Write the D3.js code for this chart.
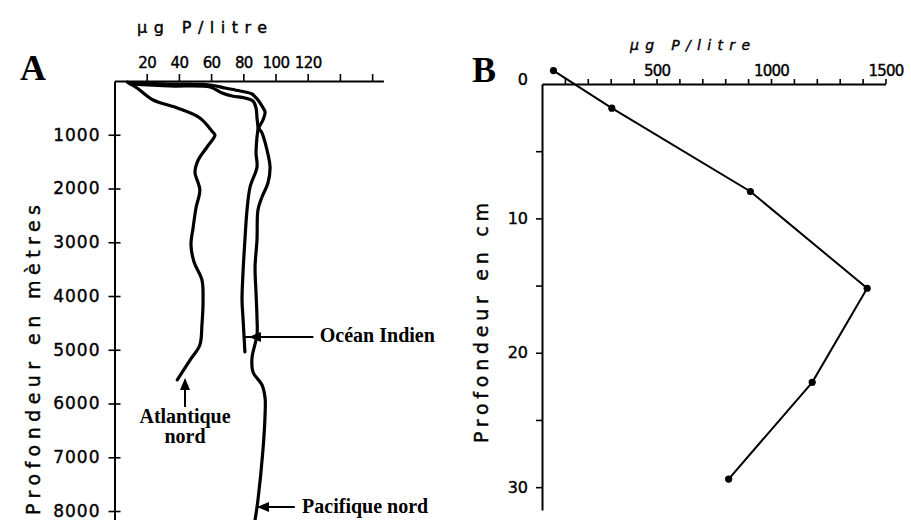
<!DOCTYPE html>
<html>
<head>
<meta charset="utf-8">
<script src="https://cdnjs.cloudflare.com/ajax/libs/d3/7.8.5/d3.min.js"></script>
<style>
body{margin:0;background:#fff;}
svg{display:block;}
.lettre{font-family:"Liberation Serif","Times New Roman",serif;font-weight:bold;}
.note{font-family:"Liberation Serif","Times New Roman",serif;font-weight:bold;font-size:20px;}
.lbl{font-family:"DejaVu Sans",sans-serif;fill:#000;}
</style>
</head>
<body>
<svg id="chart" width="911" height="520"></svg>
<script>
// A : phosphore dissous (µg P/litre) selon la profondeur (m)
var atl_valeur = [8, 14, 24, 39, 53, 61, 62.4, 57.5, 52, 50, 53, 50.6, 48.8, 47.5, 49.4, 54.3, 55, 54.3, 53, 47, 39];
var atl_prof   = [20, 130, 353, 502, 688, 949, 1004, 1228, 1469, 1693, 2027, 2362, 2734, 3050, 3367, 3701, 4073, 4538, 4910, 5189, 5561];

var ind_valeur = [9.6, 34.5, 59.3, 66.8, 73, 81, 86, 87.9, 88.5, 89.1, 88.5, 87.9, 88.5, 84.2, 82.3, 81, 79.8, 79.2, 79.8, 80.4, 81];
var ind_prof   = [56, 93, 112, 223, 279, 316, 372, 502, 688, 874, 1042, 1339, 1600, 1972, 2400, 2957, 3571, 4073, 4408, 4724, 5041];

var pac_valeur = [9.6, 34.5, 59.3, 68.6, 78, 85.4, 89.1, 91.6, 93.5, 92.2, 89.8, 91.6, 94.7, 96.6, 95.3, 91.6, 89.1, 88.5, 87.3, 87.9, 88.5, 88.5, 85.4, 86, 91.6, 93.5, 93.5, 92.2, 89.1, 87.3];
var pac_prof   = [37, 56, 74, 130, 186, 242, 353, 465, 577, 725, 874, 967, 1283, 1600, 1897, 2158, 2400, 2957, 3460, 3943, 4408, 4724, 5152, 5413, 5654, 5896, 6212, 6863, 7793, 8165];

var a_ticks_x  = [20, 40, 60, 80, 100, 120, 140, 160];
var a_labels_x = [20, 40, 60, 80, 100, 120];
var a_ticks_y  = [1000, 2000, 3000, 4000, 5000, 6000, 7000, 8000];

// B : phosphore dans l'eau interstitielle selon la profondeur dans le sédiment (cm)
var sed_valeur = [50, 305, 910, 1420, 1180, 815];
var sed_prof   = [-1, 1.8, 8, 15.2, 22.2, 29.4];

var b_ticks_x  = [100, 200, 300, 400, 500, 600, 700, 800, 900, 1000, 1100, 1200, 1300, 1400, 1500];
var b_labels_x = [500, 1000, 1500];
var b_ticks_y  = [0, 5, 10, 15, 20, 25, 30];
var b_labels_y = [0, 10, 20, 30];

var svg = d3.select("#chart");

function styleAxis(g, size){
    g.attr("font-family", "'DejaVu Sans', sans-serif")
     .attr("font-size", size);
    g.selectAll("path.domain").attr("stroke", "#000").attr("stroke-width", 2);
    g.selectAll(".tick line").attr("stroke", "#000").attr("stroke-width", 1.6);
    g.selectAll(".tick text").attr("fill", "#000").attr("stroke", "#000").attr("stroke-width", 0.4);
}

function arrowHead(dir, tx, ty){
    // petite flèche pleine, pointe en (tx,ty)
    var p;
    if(dir == "left") p = [[tx, ty], [tx + 12, ty - 5], [tx + 12, ty + 5]];
    else p = [[tx, ty], [tx - 5, ty + 12], [tx + 5, ty + 12]];
    svg.append("polygon").attr("points", p.join(" ")).attr("fill", "#000");
}

// ---------- panneau A ----------
var xa = d3.scaleLinear().domain([0, 167]).range([114.5, 383.4]);
var ya = d3.scaleLinear().domain([0, 8167]).range([81, 520]);

var axA = svg.append("g").attr("transform", "translate(0," + ya(0) + ")")
    .call(d3.axisTop(xa).tickValues(a_ticks_x).tickSize(7).tickSizeOuter(0).tickPadding(6)
        .tickFormat(function(d){ return a_labels_x.indexOf(d) >= 0 ? d : ""; }));
styleAxis(axA, 15);
axA.selectAll(".tick text").attr("letter-spacing", -0.6);

var ayA = svg.append("g").attr("transform", "translate(" + xa(0) + ",0)")
    .call(d3.axisLeft(ya).tickValues(a_ticks_y).tickSize(6).tickSizeOuter(0).tickPadding(8)
        .tickFormat(d3.format("d")));
styleAxis(ayA, 17);
ayA.selectAll(".tick line").attr("x1", 6);
ayA.selectAll(".tick text").attr("letter-spacing", 1);

var lineA = d3.line()
    .x(function(d){ return xa(d[0]); })
    .y(function(d){ return ya(d[1]); })
    .curve(d3.curveCatmullRom.alpha(0.5));

[[atl_valeur, atl_prof], [ind_valeur, ind_prof], [pac_valeur, pac_prof]].forEach(function(s){
    svg.append("path")
        .datum(d3.zip(s[0], s[1]))
        .attr("d", lineA)
        .attr("fill", "none")
        .attr("stroke", "#000")
        .attr("stroke-width", 3.2)
        .attr("stroke-linecap", "round")
        .attr("stroke-linejoin", "round");
});

svg.append("text").attr("class", "lettre").attr("x", 20).attr("y", 80).attr("font-size", 36).text("A");
svg.append("text").attr("class", "lbl").attr("x", 202).attr("y", 33)
    .attr("text-anchor", "middle").attr("font-size", 16)
    .attr("textLength", 130).attr("lengthAdjust", "spacing")
    .attr("stroke", "#000").attr("stroke-width", 0.4)
    .text("µg P/litre");
svg.append("text").attr("class", "lbl")
    .attr("transform", "translate(40,360) rotate(-90)")
    .attr("text-anchor", "middle").attr("font-size", 19)
    .attr("textLength", 310).attr("lengthAdjust", "spacing")
    .attr("stroke", "#000").attr("stroke-width", 0.4)
    .text("Profondeur  en  mètres");

// annotations A
var yInd = ya(4762);
svg.append("line").attr("x1", xa(80)).attr("x2", xa(123.5)).attr("y1", yInd).attr("y2", yInd)
    .attr("stroke", "#000").attr("stroke-width", 2);
arrowHead("left", xa(83.5), yInd);
svg.append("text").attr("class", "note").attr("x", xa(127.5)).attr("y", yInd + 5).text("Océan Indien");

var yPac = ya(7924);
svg.append("line").attr("x1", xa(89)).attr("x2", xa(112)).attr("y1", yPac).attr("y2", yPac)
    .attr("stroke", "#000").attr("stroke-width", 2);
arrowHead("left", xa(88.5), yPac);
svg.append("text").attr("class", "note").attr("x", xa(116.5)).attr("y", yPac + 6).text("Pacifique nord");

var xAtl = xa(43.8);
svg.append("line").attr("x1", xAtl).attr("x2", xAtl).attr("y1", ya(5560)).attr("y2", ya(6064))
    .attr("stroke", "#000").attr("stroke-width", 2);
arrowHead("up", xAtl, ya(5524));
svg.append("text").attr("class", "note").attr("font-size", 18)
    .attr("text-anchor", "middle").attr("x", xAtl).attr("y", ya(6360))
    .text("Atlantique");
svg.append("text").attr("class", "note").attr("font-size", 18)
    .attr("text-anchor", "middle").attr("x", xAtl).attr("y", ya(6740))
    .text("nord");

// ---------- panneau B ----------
var xb = d3.scaleLinear().domain([0, 1500]).range([542, 885.5]);
var yb = d3.scaleLinear().domain([0, 31.7]).range([84, 510]);

var axB = svg.append("g").attr("transform", "translate(0," + yb(0) + ")")
    .call(d3.axisTop(xb).tickValues(b_ticks_x).tickSize(5).tickSizeOuter(0).tickPadding(3)
        .tickFormat(function(d){ return b_labels_x.indexOf(d) >= 0 ? d : ""; }));
styleAxis(axB, 15);
axB.selectAll(".tick text").attr("letter-spacing", -0.8);

var ayB = svg.append("g").attr("transform", "translate(" + xb(0) + ",0)")
    .call(d3.axisLeft(yb).tickValues(b_ticks_y).tickSize(6).tickSizeOuter(0).tickPadding(8)
        .tickFormat(function(d){ return b_labels_y.indexOf(d) >= 0 ? d : ""; }));
styleAxis(ayB, 16);
ayB.selectAll(".tick").filter(function(d){ return d == 0; })
    .select("line").attr("x2", 0);
ayB.selectAll(".tick").filter(function(d){ return d == 0; })
    .select("text").attr("dy", "0.05em");

var lineB = d3.line()
    .x(function(d){ return xb(d[0]); })
    .y(function(d){ return yb(d[1]); });

var sed = d3.zip(sed_valeur, sed_prof);
svg.append("path").datum(sed).attr("d", lineB)
    .attr("fill", "none").attr("stroke", "#000").attr("stroke-width", 2);
svg.selectAll("circle.pt").data(sed).enter().append("circle")
    .attr("class", "pt")
    .attr("cx", function(d){ return xb(d[0]); })
    .attr("cy", function(d){ return yb(d[1]); })
    .attr("r", 3.6)
    .attr("fill", "#000");

svg.append("text").attr("class", "lettre").attr("x", 472).attr("y", 82).attr("font-size", 36).text("B");
svg.append("text").attr("class", "lbl").attr("x", 690).attr("y", 50)
    .attr("text-anchor", "middle").attr("font-size", 14).attr("font-style", "italic")
    .attr("textLength", 120).attr("lengthAdjust", "spacing")
    .attr("stroke", "#000").attr("stroke-width", 0.4)
    .text("µg P/litre");
svg.append("text").attr("class", "lbl")
    .attr("transform", "translate(488,323) rotate(-90)")
    .attr("text-anchor", "middle").attr("font-size", 19)
    .attr("textLength", 240).attr("lengthAdjust", "spacing")
    .attr("stroke", "#000").attr("stroke-width", 0.4)
    .text("Profondeur  en  cm");
</script>
</body>
</html>
